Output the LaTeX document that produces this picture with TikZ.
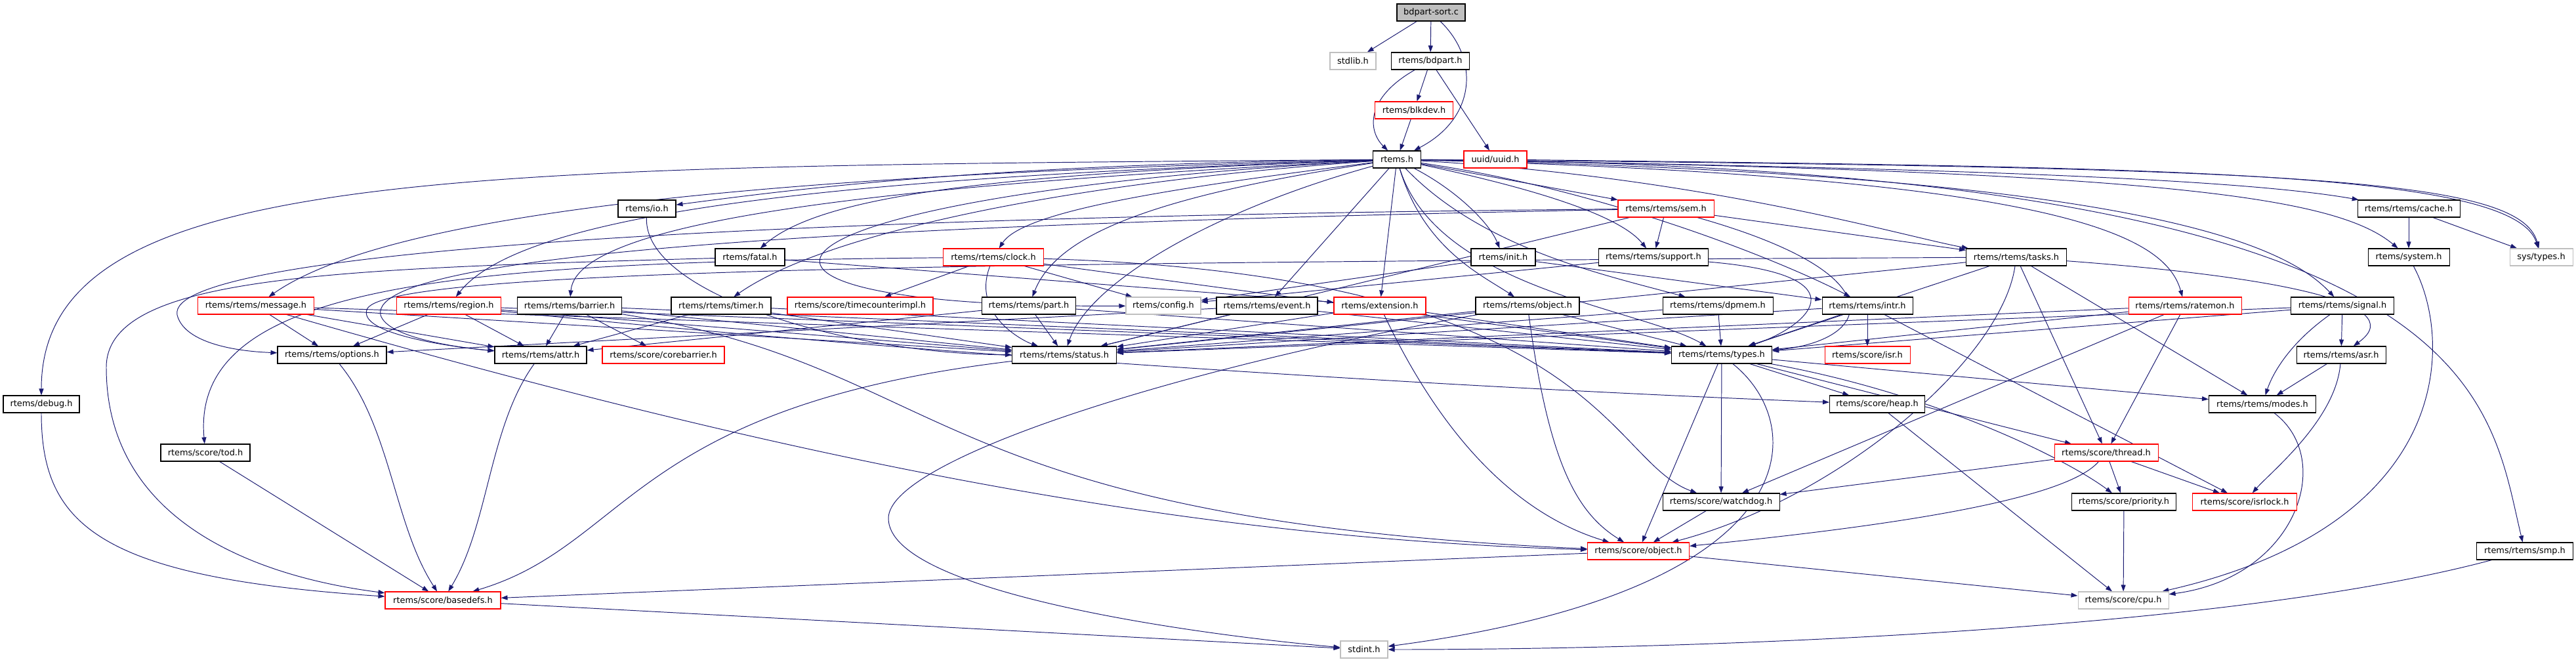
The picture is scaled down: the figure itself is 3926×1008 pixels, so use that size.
\documentclass[tikz,border=0pt]{standalone}
\usepackage{fontspec}
\setmainfont{DejaVu Sans}
\usepackage{tikz}
\usetikzlibrary{arrows.meta}
\usepackage{xcolor}
\definecolor{edgeblue}{RGB}{25,25,112}
\definecolor{boxgray}{RGB}{191,191,191}
\pgfdeclarelayer{edges}
\pgfsetlayers{edges,main}

\begin{document}
\begin{tikzpicture}[x=0.02cm, y=-0.02cm,
hfile/.style={draw=black, fill=white, line width=0.6pt, minimum height=0.52cm, inner xsep=1pt, inner ysep=0pt, font=\fontsize{7.35}{8}\selectfont},
redfile/.style={hfile, draw=red},
grayfile/.style={hfile, draw=boxgray},
wd/.style={minimum width=#1*0.02cm},
dep/.style={draw=edgeblue, line width=0.55pt, -{Triangle[length=0.2cm,width=0.14cm]}}]

\useasboundingbox (0,0) rectangle (3926,1008);

\node (src) at (2181,19) [hfile, fill=boxgray, wd=104]{bdpart-sort.c};
\node (stdlib) at (2062,93) [grayfile, wd=70]{stdlib.h};
\node (bdpart) at (2180,93) [hfile, wd=119]{rtems/bdpart.h};
\node (blkdev) at (2155,168) [redfile, wd=119]{rtems/blkdev.h};
\node (rtemsh) at (2129,243) [hfile, wd=73]{rtems.h};
\node (uuid) at (2279,243) [redfile, wd=96]{uuid/uuid.h};

\node (io) at (986,318) [hfile, wd=88]{rtems/io.h};
\node (sem) at (2539,318) [redfile, wd=146]{rtems/rtems/sem.h};
\node (cache) at (3671,318) [hfile, wd=156]{rtems/rtems/cache.h};

\node (fatal) at (1143,392) [hfile, wd=106]{rtems/fatal.h};
\node (clock) at (1514,392) [redfile, wd=153]{rtems/rtems/clock.h};
\node (init) at (2291,392) [hfile, wd=98]{rtems/init.h};
\node (support) at (2520,392) [hfile, wd=167]{rtems/rtems/support.h};
\node (tasks) at (3073,392) [hfile, wd=153]{rtems/rtems/tasks.h};
\node (system) at (3671,392) [hfile, wd=124]{rtems/system.h};
\node (systypes) at (3873,392) [grayfile, wd=96]{sys/types.h};

\node (message) at (390,466) [redfile, wd=177]{rtems/rtems/message.h};
\node (region) at (684,466) [redfile, wd=159]{rtems/rtems/region.h};
\node (barrier) at (868,466) [hfile, wd=159]{rtems/rtems/barrier.h};
\node (timer) at (1099,466) [hfile, wd=152]{rtems/rtems/timer.h};
\node (tcimpl) at (1311,466) [redfile, wd=222]{rtems/score/timecounterimpl.h};
\node (part) at (1568,466) [hfile, wd=143]{rtems/rtems/part.h};
\node (config) at (1773,466) [grayfile, wd=114]{rtems/config.h};
\node (event) at (1931,466) [hfile, wd=154]{rtems/rtems/event.h};
\node (extension) at (2103,466) [redfile, wd=140]{rtems/extension.h};
\node (robject) at (2328,466) [hfile, wd=158]{rtems/rtems/object.h};
\node (dpmem) at (2618,466) [hfile, wd=168]{rtems/rtems/dpmem.h};
\node (intr) at (2846,466) [hfile, wd=138]{rtems/rtems/intr.h};
\node (ratemon) at (3330,466) [redfile, wd=172]{rtems/rtems/ratemon.h};
\node (signal) at (3570,466) [hfile, wd=157]{rtems/rtems/signal.h};

\node (options) at (506,541) [hfile, wd=166]{rtems/rtems/options.h};
\node (attr) at (824,541) [hfile, wd=140]{rtems/rtems/attr.h};
\node (corebarrier) at (1011,541) [redfile, wd=186]{rtems/score/corebarrier.h};
\node (status) at (1622,541) [hfile, wd=159]{rtems/rtems/status.h};
\node (types) at (2624,541) [hfile, wd=153]{rtems/rtems/types.h};
\node (isr) at (2846,541) [redfile, wd=130]{rtems/score/isr.h};
\node (asr) at (3568,541) [hfile, wd=136]{rtems/rtems/asr.h};

\node (debug) at (63,616) [hfile, wd=116]{rtems/debug.h};
\node (heap) at (2861,616) [hfile, wd=145]{rtems/score/heap.h};
\node (modes) at (3448,616) [hfile, wd=163]{rtems/rtems/modes.h};

\node (tod) at (313,690) [hfile, wd=136]{rtems/score/tod.h};
\node (thread) at (3210,690) [redfile, wd=158]{rtems/score/thread.h};

\node (watchdog) at (2623,765) [hfile, wd=178]{rtems/score/watchdog.h};
\node (priority) at (3237,765) [hfile, wd=159]{rtems/score/priority.h};
\node (isrlock) at (3421,765) [redfile, wd=159]{rtems/score/isrlock.h};

\node (sobject) at (2497,840) [redfile, wd=155]{rtems/score/object.h};
\node (smp) at (3848,840) [hfile, wd=147]{rtems/rtems/smp.h};

\node (basedefs) at (675,915) [redfile, wd=176]{rtems/score/basedefs.h};
\node (cpu) at (3236,915) [grayfile, wd=138]{rtems/score/cpu.h};

\node (stdint) at (2079,990) [grayfile, wd=72]{stdint.h};

\begin{pgfonlayer}{edges}
% top of the graph
\draw[dep] (src) -- (stdlib);
\draw[dep] (src) -- (bdpart);
\draw[dep] (src) .. controls (2255,90) and (2250,180) .. (rtemsh);
\draw[dep] (bdpart) .. controls (2080,150) and (2085,200) .. (rtemsh);
\draw[dep] (bdpart) -- (blkdev);
\draw[dep] (bdpart) -- (uuid);
\draw[dep] (blkdev) -- (rtemsh);
\draw[dep] (uuid) .. controls (3300,255) and (3830,260) .. (systypes);

% rtems.h
\draw[dep] (rtemsh) .. controls (700,255) and (63,250) .. (debug);
\draw[dep] (rtemsh) .. controls (1500,250) and (1200,290) .. (io);
\draw[dep] (rtemsh) .. controls (1500,265) and (1250,300) .. (fatal);
\draw[dep] (rtemsh) .. controls (1200,265) and (600,320) .. (message);
\draw[dep] (rtemsh) .. controls (1300,270) and (800,320) .. (region);
\draw[dep] (rtemsh) .. controls (1400,280) and (880,330) .. (barrier);
\draw[dep] (rtemsh) .. controls (1600,280) and (1250,360) .. (timer);
\draw[dep] (rtemsh) .. controls (1800,285) and (1560,320) .. (clock);
\draw[dep] (rtemsh) .. controls (1100,300) and (1000,470) .. (config);
\draw[dep] (rtemsh) .. controls (1750,300) and (1610,360) .. (part);
\draw[dep] (rtemsh) -- (event);
\draw[dep] (rtemsh) .. controls (1850,320) and (1660,430) .. (status);
\draw[dep] (rtemsh) -- (extension);
\draw[dep] (rtemsh) .. controls (2170,380) and (2260,420) .. (robject);
\draw[dep] (rtemsh) .. controls (2220,290) and (2270,340) .. (init);
\draw[dep] (rtemsh) .. controls (2260,380) and (2450,420) .. (dpmem);
\draw[dep] (rtemsh) .. controls (2190,440) and (2500,470) .. (types);
\draw[dep] (rtemsh) -- (sem);
\draw[dep] (rtemsh) .. controls (2350,290) and (2470,330) .. (support);
\draw[dep] (rtemsh) .. controls (2450,290) and (2720,400) .. (intr);
\draw[dep] (rtemsh) .. controls (2600,270) and (2900,360) .. (tasks);
\draw[dep] (rtemsh) .. controls (3150,270) and (3300,360) .. (ratemon);
\draw[dep] (rtemsh) .. controls (3250,265) and (3480,370) .. (signal);
\draw[dep] (rtemsh) .. controls (2900,255) and (3400,270) .. (cache);
\draw[dep] (rtemsh) .. controls (3300,260) and (3560,300) .. (system);
\draw[dep] (rtemsh) .. controls (3500,255) and (3840,270) .. (systypes);
\draw[dep] (rtemsh) .. controls (3790,255) and (3790,600) .. (smp);

% rtems/rtems headers
\draw[dep] (io) .. controls (980,450) and (1300,540) .. (status);
\draw[dep] (fatal) .. controls (500,410) and (162,420) .. (162,560) .. controls (162,800) and (400,880) .. (basedefs);
\draw[dep] (fatal) -- (extension);
\draw[dep] (clock) -- (tcimpl);
\draw[dep] (clock) .. controls (1480,480) and (1560,520) .. (status);
\draw[dep] (clock) -- (config);
\draw[dep] (clock) .. controls (700,400) and (290,430) .. (tod);
\draw[dep] (clock) -- (types);
\draw[dep] (clock) .. controls (2440,420) and (2446,700) .. (watchdog);
\draw[dep] (message) -- (options);
\draw[dep] (message) -- (attr);
\draw[dep] (message) -- (status);
\draw[dep] (message) -- (types);
\draw[dep] (message) .. controls (1200,700) and (1800,820) .. (sobject);
\draw[dep] (region) -- (options);
\draw[dep] (region) -- (attr);
\draw[dep] (region) -- (status);
\draw[dep] (region) -- (types);
\draw[dep] (region) .. controls (1400,540) and (2200,590) .. (heap);
\draw[dep] (barrier) -- (attr);
\draw[dep] (barrier) -- (corebarrier);
\draw[dep] (barrier) -- (status);
\draw[dep] (barrier) -- (types);
\draw[dep] (barrier) .. controls (1455,560) and (1400,790) .. (sobject);
\draw[dep] (timer) -- (status);
\draw[dep] (timer) -- (types);
\draw[dep] (timer) -- (attr);
\draw[dep] (part) -- (status);
\draw[dep] (part) -- (types);
\draw[dep] (part) -- (attr);
\draw[dep] (event) -- (status);
\draw[dep] (event) -- (types);
\draw[dep] (event) -- (options);
\draw[dep] (extension) -- (status);
\draw[dep] (extension) -- (types);
\draw[dep] (extension) .. controls (2190,650) and (2300,780) .. (sobject);
\draw[dep] (robject) -- (types);
\draw[dep] (robject) -- (status);
\draw[dep] (robject) .. controls (2360,700) and (2400,780) .. (sobject);
\draw[dep] (robject) .. controls (1800,560) and (1354,700) .. (1354,790) .. controls (1354,900) and (1800,965) .. (stdint);
\draw[dep] (dpmem) -- (types);
\draw[dep] (dpmem) -- (status);
\draw[dep] (init) -- (config);
\draw[dep] (init) -- (intr);
\draw[dep] (sem) -- (support);
\draw[dep] (sem) -- (tasks);
\draw[dep] (sem) -- (status);
\draw[dep] (sem) .. controls (2900,420) and (2850,520) .. (types);
\draw[dep] (sem) .. controls (1200,330) and (250,380) .. (270,480) .. controls (280,520) and (350,535) .. (options);
\draw[dep] (sem) .. controls (1400,340) and (560,380) .. (580,480) .. controls (590,515) and (700,530) .. (attr);
\draw[dep] (support) -- (config);
\draw[dep] (support) .. controls (2850,420) and (2750,500) .. (types);
\draw[dep] (intr) -- (isr);
\draw[dep] (intr) -- (types);
\draw[dep] (intr) -- (status);
\draw[dep] (intr) -- (isrlock);
\draw[dep] (tasks) -- (types);
\draw[dep] (tasks) -- (status);
\draw[dep] (tasks) .. controls (1500,400) and (600,410) .. (560,470) .. controls (540,510) and (700,530) .. (attr);
\draw[dep] (tasks) -- (thread);
\draw[dep] (tasks) -- (modes);
\draw[dep] (tasks) .. controls (3050,550) and (2800,760) .. (sobject);
\draw[dep] (tasks) .. controls (3450,420) and (3680,460) .. (asr);
\draw[dep] (ratemon) -- (types);
\draw[dep] (ratemon) -- (status);
\draw[dep] (ratemon) -- (thread);
\draw[dep] (ratemon) -- (watchdog);
\draw[dep] (signal) -- (asr);
\draw[dep] (signal) -- (types);
\draw[dep] (signal) -- (status);
\draw[dep] (signal) .. controls (3480,530) and (3460,580) .. (modes);
\draw[dep] (asr) -- (modes);
\draw[dep] (asr) .. controls (3560,640) and (3460,720) .. (isrlock);
\draw[dep] (cache) -- (system);
\draw[dep] (cache) -- (systypes);
\draw[dep] (system) .. controls (3740,520) and (3740,800) .. (cpu);
\draw[dep] (smp) .. controls (3400,960) and (2600,990) .. (stdint);
\draw[dep] (modes) .. controls (3560,700) and (3500,880) .. (cpu);

% rtems/score headers
\draw[dep] (types) -- (sobject);
\draw[dep] (types) -- (watchdog);
\draw[dep] (types) -- (heap);
\draw[dep] (types) -- (modes);
\draw[dep] (types) -- (thread);
\draw[dep] (types) .. controls (2760,650) and (2760,900) .. (stdint);
\draw[dep] (types) .. controls (2950,600) and (3150,700) .. (priority);
\draw[dep] (heap) -- (cpu);
\draw[dep] (thread) -- (priority);
\draw[dep] (thread) -- (isrlock);
\draw[dep] (thread) -- (watchdog);
\draw[dep] (thread) .. controls (3150,760) and (2900,800) .. (sobject);
\draw[dep] (watchdog) -- (sobject);
\draw[dep] (priority) -- (cpu);
\draw[dep] (sobject) -- (cpu);
\draw[dep] (sobject) -- (basedefs);
\draw[dep] (basedefs) -- (stdint);
\draw[dep] (debug) .. controls (63,800) and (150,880) .. (basedefs);
\draw[dep] (tod) -- (basedefs);
\draw[dep] (options) .. controls (596,650) and (600,800) .. (basedefs);
\draw[dep] (attr) .. controls (745,650) and (745,800) .. (basedefs);
\draw[dep] (status) .. controls (960,620) and (960,830) .. (basedefs);
\end{pgfonlayer}

\end{tikzpicture}
\end{document}
